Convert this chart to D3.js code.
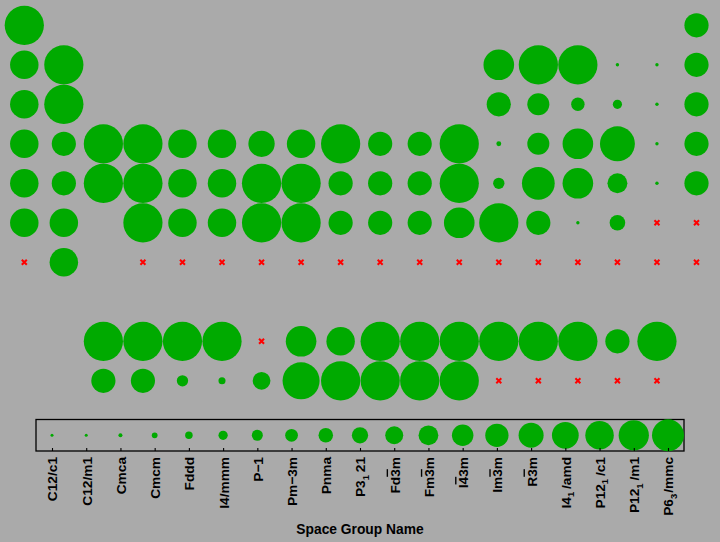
<!DOCTYPE html>
<html>
<head>
<meta charset="utf-8">
<script src="https://cdn.jsdelivr.net/npm/d3@7"></script>
<style>
  html, body { margin: 0; padding: 0; background: #aaaaaa; }
  svg { display: block; }
  text { font-family: "Liberation Sans", Arial, Helvetica, sans-serif; font-weight: bold; }
</style>
</head>
<body>
<svg id="chart" width="720" height="542"></svg>
<script>
// ---- Data ----
// Space groups (legend order, also tick labels). Markup: "~x" = overlined char, "_x" = subscript char
const spaceGroups = ["C12/c1","C12/m1","Cmca","Cmcm","Fddd","I4/mmm","P-1","Pm-3m","Pnma","P3121",
  "Fd-3m","Fm-3m","I-43m","Im-3m","R-3m","I41/amd","P1211/c1","P1211/m1","P63/mmc"];
const tickLabels = ["C12/c1","C12/m1","Cmca","Cmcm","Fddd","I4/mmm","P\u22121","Pm\u22123m","Pnma","P3_1 21",
  "Fd~3m","Fm~3m","I~43m","Im~3m","R~3m","I4_1 /amd","P12_1 /c1","P12_1 /m1","P6_3/mmc"];

// Elements: symbol, periodic-table group (column), display row (9 = lanthanides, 10 = actinides)
const symbols = [
  "H","He",
  "Li","Be","B","C","N","O","F","Ne",
  "Na","Mg","Al","Si","P","S","Cl","Ar",
  "K","Ca","Sc","Ti","V","Cr","Mn","Fe","Co","Ni","Cu","Zn","Ga","Ge","As","Se","Br","Kr",
  "Rb","Sr","Y","Zr","Nb","Mo","Tc","Ru","Rh","Pd","Ag","Cd","In","Sn","Sb","Te","I","Xe",
  "Cs","Ba","Hf","Ta","W","Re","Os","Ir","Pt","Au","Hg","Tl","Pb","Bi","Po","At","Rn",
  "Fr","Ra","Rf","Db","Sg","Bh","Hs","Mt","Ds","Rg","Cn","Nh","Fl","Mc","Lv","Ts","Og",
  "La","Ce","Pr","Nd","Pm","Sm","Eu","Gd","Tb","Dy","Ho","Er","Tm","Yb","Lu",
  "Ac","Th","Pa","U","Np","Pu","Am","Cm","Bk","Cf","Es","Fm","Md","No","Lr"
];
const groups = [
  1,18,
  1,2,13,14,15,16,17,18,
  1,2,13,14,15,16,17,18,
  1,2,3,4,5,6,7,8,9,10,11,12,13,14,15,16,17,18,
  1,2,3,4,5,6,7,8,9,10,11,12,13,14,15,16,17,18,
  1,2,4,5,6,7,8,9,10,11,12,13,14,15,16,17,18,
  1,2,4,5,6,7,8,9,10,11,12,13,14,15,16,17,18,
  3,4,5,6,7,8,9,10,11,12,13,14,15,16,17,
  3,4,5,6,7,8,9,10,11,12,13,14,15,16,17
];
const rows = [
  1,1,
  2,2,2,2,2,2,2,2,
  3,3,3,3,3,3,3,3,
  4,4,4,4,4,4,4,4,4,4,4,4,4,4,4,4,4,4,
  5,5,5,5,5,5,5,5,5,5,5,5,5,5,5,5,5,5,
  6,6,6,6,6,6,6,6,6,6,6,6,6,6,6,6,6,
  7,7,7,7,7,7,7,7,7,7,7,7,7,7,7,7,7,
  9,9,9,9,9,9,9,9,9,9,9,9,9,9,9,
  10,10,10,10,10,10,10,10,10,10,10,10,10,10,10
];
// Space group per element (null = no data -> red cross)
const elementSG = [
  "P63/mmc","Fm-3m",
  "Im-3m","P63/mmc","R-3m","P63/mmc","P63/mmc","C12/m1","C12/c1","Fm-3m",
  "Im-3m","P63/mmc","Fm-3m","Fd-3m","P-1","Fddd","C12/c1","Fm-3m",
  "Im-3m","Fm-3m","P63/mmc","P63/mmc","Im-3m","Im-3m","I-43m","Im-3m","P63/mmc","Fm-3m","Fm-3m","P63/mmc","Cmca","Fd-3m","R-3m","P1211/c1","C12/c1","Fm-3m",
  "Im-3m","Fm-3m","P63/mmc","P63/mmc","Im-3m","Im-3m","P63/mmc","P63/mmc","Fm-3m","Fm-3m","Fm-3m","P63/mmc","I4/mmm","I41/amd","R-3m","P3121","C12/c1","Fm-3m",
  "Im-3m","Im-3m","P63/mmc","Im-3m","Im-3m","P63/mmc","P63/mmc","Fm-3m","Fm-3m","Fm-3m","R-3m","P63/mmc","Fm-3m","C12/m1","Pm-3m",null,null,
  null,"Im-3m",null,null,null,null,null,null,null,null,null,null,null,null,null,null,null,
  "P63/mmc","P63/mmc","P63/mmc","P63/mmc",null,"R-3m","Im-3m","P63/mmc","P63/mmc","P63/mmc","P63/mmc","P63/mmc","P63/mmc","Fm-3m","P63/mmc",
  "Fm-3m","Fm-3m","I4/mmm","Cmcm","Pnma","P1211/m1","P63/mmc","P63/mmc","P63/mmc","P63/mmc",null,null,null,null,null
];

// ---- Chart ----
const svg = d3.select("#chart");
const W = 720, H = 542;
svg.append("rect").attr("width", W).attr("height", H).attr("fill", "#aaaaaa");

const green = "#00aa00", red = "#ff0000";
const x = d3.scaleLinear().domain([1, 18]).range([24.3, 696.5]);
const y = d3.scaleLinear().domain([1, 10]).range([25.3, 380.8]);
const sgIndex = d3.scaleOrdinal().domain(spaceGroups).range(d3.range(spaceGroups.length));
const rScale = d3.scaleLinear().domain([0, spaceGroups.length - 1]).range([0.3, 19.6]);
const rLegend = d3.scaleLinear().domain([0, spaceGroups.length - 1]).range([0.25, 16]);

const data = symbols.map((s, i) => ({ sym: s, g: groups[i], row: rows[i], sg: elementSG[i] }));

const tableG = svg.append("g");
tableG.selectAll("circle")
  .data(data.filter(d => d.sg !== null))
  .join("circle")
  .attr("cx", d => x(d.g))
  .attr("cy", d => y(d.row))
  .attr("r", d => Math.max(1.7, rScale(sgIndex(d.sg))))
  .attr("fill", green);

const cross = "M-2.5,-2.5L2.5,2.5M-2.5,2.5L2.5,-2.5";
tableG.selectAll("path.miss")
  .data(data.filter(d => d.sg === null))
  .join("path")
  .attr("class", "miss")
  .attr("d", cross)
  .attr("transform", d => `translate(${x(d.g)},${y(d.row)})`)
  .attr("stroke", red)
  .attr("stroke-width", 2)
  .attr("fill", "none");

// ---- Legend ----
const lx = d3.scalePoint().domain(spaceGroups).range([52, 668]);
const boxTop = 419.5, boxBottom = 451;
const legendG = svg.append("g");
legendG.append("rect")
  .attr("x", 36).attr("y", boxTop)
  .attr("width", 648).attr("height", boxBottom - boxTop)
  .attr("fill", "none").attr("stroke", "#000").attr("stroke-width", 1.3);

legendG.selectAll("circle")
  .data(spaceGroups)
  .join("circle")
  .attr("cx", d => lx(d))
  .attr("cy", (boxTop + boxBottom) / 2)
  .attr("r", d => Math.max(1.5, rLegend(sgIndex(d))))
  .attr("fill", green);

const axis = d3.axisBottom(lx).tickSizeInner(-3).tickSizeOuter(0).tickPadding(6);
const axG = svg.append("g").attr("transform", `translate(0,${boxBottom})`).call(axis);
axG.select(".domain").remove();
axG.selectAll(".tick line").attr("stroke", "#000").attr("stroke-width", 1.1);

const labelOf = d3.scaleOrdinal().domain(spaceGroups).range(tickLabels);
axG.selectAll(".tick text")
  .attr("transform", "rotate(-90)")
  .attr("x", -6)
  .attr("y", 0)
  .attr("dy", "0.36em")
  .attr("text-anchor", "end")
  .attr("fill", "#000")
  .style("font-size", "13.7px")
  .style("font-family", "'Liberation Sans', Arial, sans-serif")
  .style("font-weight", "bold")
  .each(function(d) {
    const t = d3.select(this);
    t.text(null);
    const lab = labelOf(d);
    let i = 0, buf = "";
    const flush = () => { if (buf) { t.append("tspan").text(buf); buf = ""; } };
    let pendingDy = 0;
    while (i < lab.length) {
      const c = lab[i];
      if (c === "~") {
        flush();
        t.append("tspan").style("text-decoration", "overline").text(lab[i + 1]);
        i += 2;
      } else if (c === "_") {
        flush();
        t.append("tspan").attr("dy", 3.5).style("font-size", "9.5px").text(lab[i + 1]);
        i += 2;
        // return to baseline on next segment
        let rest = "";
        while (i < lab.length && lab[i] !== "~" && lab[i] !== "_") { rest += lab[i]; i++; }
        t.append("tspan").attr("dy", -3.5).attr("dx", rest.startsWith(" ") ? -1 : 1).text(rest);
      } else {
        buf += c; i++;
      }
    }
    flush();
  });

svg.append("text")
  .attr("x", 360).attr("y", 534)
  .attr("text-anchor", "middle")
  .style("font-size", "13.8px")
  .attr("fill", "#000")
  .text("Space Group Name");
</script>
</body>
</html>
